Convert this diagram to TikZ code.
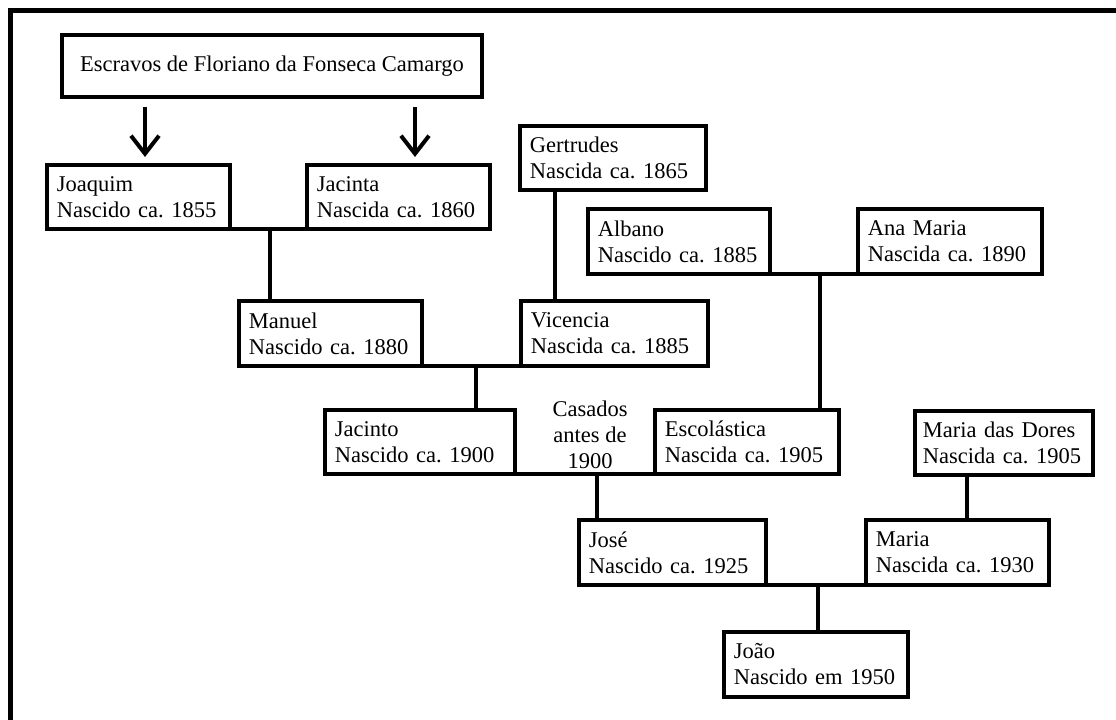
\documentclass[tikz,border=0pt]{standalone}
\usepackage{fontspec}
\setmainfont{Liberation Serif}
\usetikzlibrary{arrows.meta, calc}

\begin{document}
\frenchspacing
\begin{tikzpicture}[x=0.025cm, y=-0.025cm,
                    font=\fontsize{16pt}{18.5pt}\selectfont,
                    person_box/.style={rectangle, draw, line width=0.1cm, align=left, minimum height=1.6cm, inner xsep=0.25cm, outer sep=0pt},
                    origin_box/.style={rectangle, draw, line width=0.1cm, align=center, minimum width=10.5cm, minimum height=1.55cm, outer sep=0pt},
                    family_line/.style={line width=0.1cm},
                    descent_arrow/.style={line width=0.1cm, -{Straight Barb[length=0.45cm, width=0.7cm]}},
                    ]

    \useasboundingbox (0,0) rectangle (1116,720);

    % Frame
    \begin{scope}
        \clip (0,0) rectangle (1116,720);
        \draw[line width=0.125cm] (10.5,11) rectangle (1140,740);
    \end{scope}

    % Origin
    \node[origin_box] (escravos) at (272,66) {Escravos de Floriano da Fonseca Camargo};

    % First generation
    \node[person_box, text width=4.075cm] (joaquim) at (138.5,197) {Joaquim\\Nascido ca. 1855};
    \node[person_box, text width=4.075cm] (jacinta) at (398.5,197) {Jacinta\\Nascida ca. 1860};
    \node[person_box, text width=4.15cm] (gertrudes) at (613,158) {Gertrudes\\Nascida ca. 1865};

    % Second generation
    \node[person_box, text width=4.075cm] (manuel) at (330.5,333.5) {Manuel\\Nascido ca. 1880};
    \node[person_box, text width=4.175cm] (vicencia) at (614.5,333.5) {Vicencia\\Nascida ca. 1885};
    \node[person_box, text width=4.05cm] (albano) at (679,241.5) {Albano\\Nascido ca. 1885};
    \node[person_box, text width=4.1cm] (ana_maria) at (950,241.5) {Ana Maria\\Nascida ca. 1890};

    % Third generation
    \node[person_box, text width=4.25cm] (jacinto) at (420,442) {Jacinto\\Nascido ca. 1900};
    \node[person_box, text width=4.1cm] (escolastica) at (747,442) {Escolástica\\Nascida ca. 1905};
    \node[person_box, inner xsep=0.2cm, text width=4.05cm] (maria_dores) at (1004,443) {Maria das Dores\\Nascida ca. 1905};
    \node[align=center] (casados) at (590,435) {Casados\\antes de\\1900};

    % Fourth and fifth generation
    \node[person_box, text width=4.175cm] (jose) at (672.5,552.5) {José\\Nascido ca. 1925};
    \node[person_box, text width=4.075cm] (maria) at (957.5,552.5) {Maria\\Nascida ca. 1930};
    \node[person_box, text width=4.1cm] (joao) at (816,664.5) {João\\Nascido em 1950};

    % Arrows from the origin
    \coordinate (to_joaquim) at ($(joaquim.north)+(6.5,0)$);
    \coordinate (to_jacinta) at ($(jacinta.north)+(16.5,0)$);
    \draw[descent_arrow, shorten <=0.25cm, shorten >=0.2cm] (to_joaquim |- escravos.south) -- (to_joaquim);
    \draw[descent_arrow, shorten <=0.25cm, shorten >=0.2cm] (to_jacinta |- escravos.south) -- (to_jacinta);

    % Couples
    \coordinate (joaquim_jacinta) at ($(joaquim.south east)!0.5!(jacinta.south west)+(1.5,0)$);
    \coordinate (manuel_vicencia) at ($(manuel.south east)!0.5!(vicencia.south west)+(4.5,0)$);
    \coordinate (albano_ana) at ($(albano.south east)!0.5!(ana_maria.south west)+(6,0)$);
    \coordinate (jacinto_escolastica) at ($(jacinto.south east)!0.5!(escolastica.south west)+(12,0)$);
    \coordinate (jose_maria) at ($(jose.south east)!0.5!(maria.south west)+(2,0)$);
    \draw[family_line] (joaquim.south east) -- (jacinta.south west);
    \draw[family_line] (manuel.south east) -- (vicencia.south west);
    \draw[family_line] (albano.south east) -- (ana_maria.south west);
    \draw[family_line] (jacinto.south east) -- (escolastica.south west);
    \draw[family_line] (jose.south east) -- (maria.south west);

    % Children
    \draw[family_line] (joaquim_jacinta) -- (joaquim_jacinta |- manuel.north);
    \draw[family_line] (manuel_vicencia) -- (manuel_vicencia |- jacinto.north);
    \draw[family_line] (albano_ana) -- (albano_ana |- escolastica.north);
    \draw[family_line] (jacinto_escolastica) -- (jacinto_escolastica |- jose.north);
    \draw[family_line] (jose_maria) -- (jose_maria |- joao.north);

    % Single mothers
    \coordinate (from_gertrudes) at ($(gertrudes.south west)+(35,0)$);
    \draw[family_line] (from_gertrudes) -- (from_gertrudes |- vicencia.north);
    \coordinate (to_maria) at ($(maria.north)+(9.5,0)$);
    \draw[family_line] (to_maria |- maria_dores.south) -- (to_maria);

\end{tikzpicture}
\end{document}
